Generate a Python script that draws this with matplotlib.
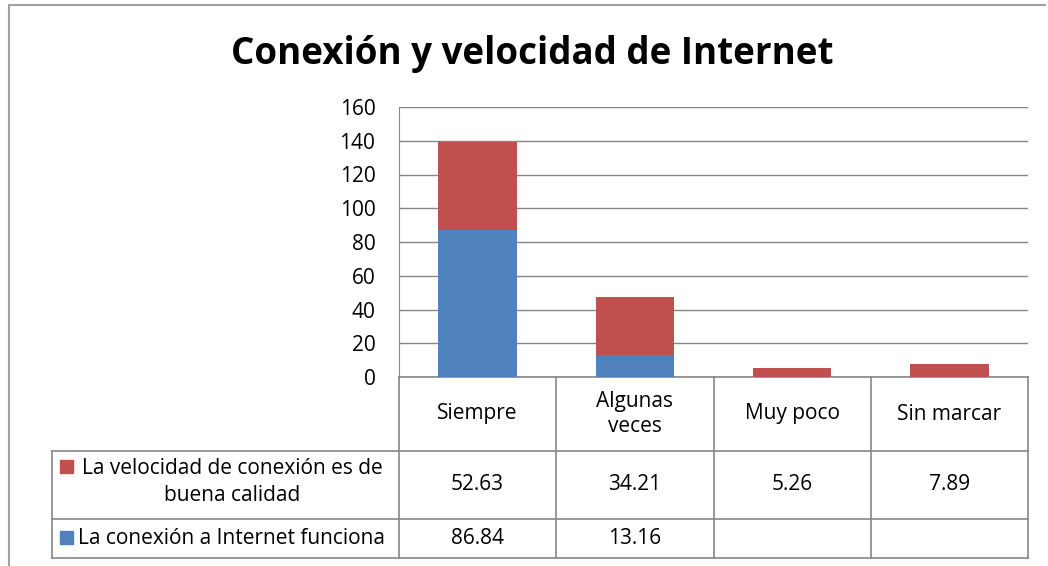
import matplotlib.pyplot as plt
from matplotlib.patches import Rectangle

# datos
categorias = ['Siempre', 'Algunas\nveces', 'Muy poco', 'Sin marcar']
conexion_funciona = [86.84, 13.16, 0, 0]
velocidad_buena = [52.63, 34.21, 5.26, 7.89]
texto_funciona = ['86.84', '13.16', '', '']
texto_velocidad = ['52.63', '34.21', '5.26', '7.89']
serie_funciona = 'La conexión a Internet funciona'
serie_velocidad = 'La velocidad de conexión es de\nbuena calidad'
titulo = 'Conexión y velocidad de Internet'
yticks = [0, 20, 40, 60, 80, 100, 120, 140, 160]

azul = '#4F81BD'
rojo = '#C0504D'
gris = '#868686'

plt.rcParams['font.family'] = ['Open Sans', 'DejaVu Sans']
fs = 15

W, H = 1048, 566
fig = plt.figure(figsize=(W / 100, H / 100), dpi=100)

# capa de dibujo en pixeles (marco y tabla)
bg = fig.add_axes([0, 0, 1, 1])
bg.set_xlim(0, W)
bg.set_ylim(H, 0)
bg.axis('off')

# area del grafico
x0, x1, ytop, ybot = 399, 1028, 107, 377
ax = fig.add_axes([x0 / W, 1 - ybot / H, (x1 - x0) / W, (ybot - ytop) / H])
pos = range(len(categorias))
ax.bar(pos, conexion_funciona, width=0.5, color=azul, zorder=3)
ax.bar(pos, velocidad_buena, width=0.5, bottom=conexion_funciona, color=rojo, zorder=3)
ax.set_xlim(-0.5, len(categorias) - 0.5)
ax.set_ylim(0, 160)
ax.set_yticks(yticks)
ax.set_yticklabels([str(v) for v in yticks], fontsize=fs)
ax.tick_params(axis='y', length=0, pad=17)
ax.tick_params(axis='x', length=0, labelbottom=False)
ax.grid(axis='y', color=gris, linewidth=1, zorder=0)
for s in ['top', 'right', 'bottom']:
    ax.spines[s].set_visible(False)
ax.spines['left'].set_color(gris)
ax.set_facecolor('none')

# marco exterior
bg.plot([9, 9, 1045], [566, 5, 5], color='#A0A0A0', linewidth=1.5)

# titulo
fig.text(532 / W, 1 - 54 / H, titulo, ha='center', va='center',
         fontsize=26.5, fontweight='bold', family=['Open Sans', 'DejaVu Sans'])

# tabla de datos
colw = (x1 - x0) / len(categorias)
r0, r1, r2, r3 = ybot, 451, 519, 558
lab_left = 52
lw = 1.2
# lineas horizontales
bg.plot([x0, x1], [r0, r0], color=gris, lw=lw)
for y in [r1, r2, r3]:
    bg.plot([lab_left, x1], [y, y], color=gris, lw=lw)
# lineas verticales
bg.plot([lab_left, lab_left], [r1, r3], color=gris, lw=lw)
for i in range(len(categorias) + 1):
    xv = x0 + i * colw
    bg.plot([xv, xv], [r0, r3], color=gris, lw=lw)

for i, cat in enumerate(categorias):
    xc = x0 + (i + 0.5) * colw
    bg.text(xc, (r0 + r1) / 2, cat, ha='center', va='center', fontsize=fs,
            linespacing=1.2)
    bg.text(xc, (r1 + r2) / 2, texto_velocidad[i], ha='center', va='center', fontsize=fs)
    bg.text(xc, (r2 + r3) / 2, texto_funciona[i], ha='center', va='center', fontsize=fs)

# etiquetas de series con cuadro de color
bg.add_patch(Rectangle((60, 460), 13, 13, color=rojo))
bg.text(232, 482, serie_velocidad, ha='center', va='center',
        fontsize=fs, multialignment='center', linespacing=1.38)
bg.add_patch(Rectangle((60, 531), 13, 13, color=azul))
bg.text(78, (r2 + r3) / 2, serie_funciona, ha='left', va='center', fontsize=fs)

fig.savefig('out.png', dpi=100)
